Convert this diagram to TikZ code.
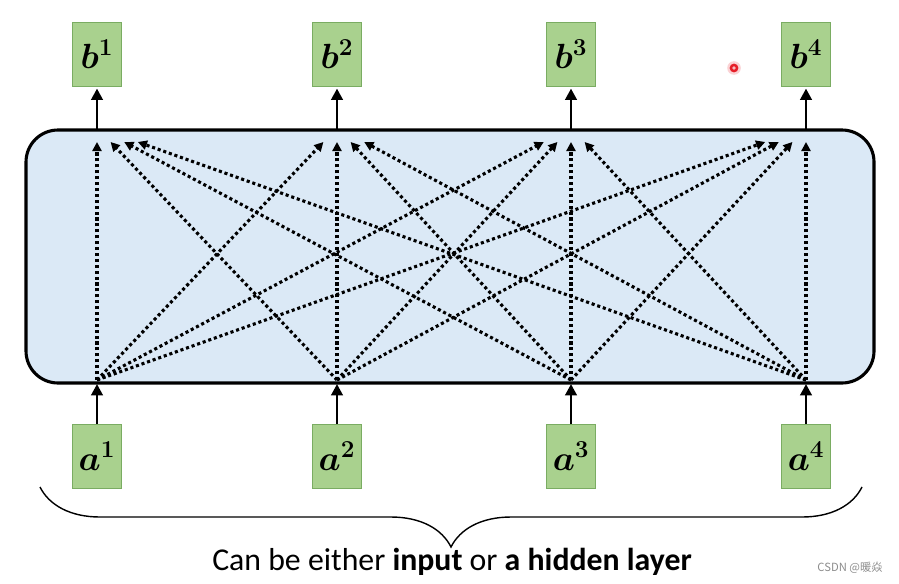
\documentclass[tikz,border=0pt]{standalone}
\usepackage{fontspec}
\usepackage{bm}
\usetikzlibrary{arrows.meta,positioning,decorations.pathreplacing}
\newfontfamily\captionfont{Carlito}
\newfontfamily\cjkfont{Noto Sans CJK SC}
\definecolor{unitGreen}{RGB}{169,209,142}
\definecolor{unitGreenDark}{RGB}{122,172,98}
\definecolor{layerBlue}{RGB}{219,233,246}
\definecolor{markGray}{RGB}{140,140,140}
\definecolor{laserRed}{RGB}{230,30,40}

\begin{document}
\begin{tikzpicture}[x=0.025cm,y=-0.025cm,
    unitbox/.style={draw=unitGreenDark, fill=unitGreen, line width=0.6pt,
        minimum width=1.225cm, minimum height=1.6cm, inner sep=0pt,
        font=\fontsize{25}{28}\selectfont},
    feed/.style={line width=2pt, -{Triangle[length=8pt,width=8pt]}},
    linkarrow/.style={line width=2.2pt, dash pattern=on 2.2pt off 2pt,
        -{Triangle[length=6.5pt,width=6.5pt]}}]
    \useasboundingbox (0,0) rectangle (899,584);

    % layer
    \draw[line width=2.2pt, fill=layerBlue, rounded corners=0.8cm] (26,130) rectangle (874,383);

    % units and their feeds
    \foreach \i/\xp in {1/97,2/337,3/571,4/806} {
        \node[unitbox] (b\i) at (\xp,54) {$\bm{b^{\i}}$};
        \node[unitbox] (a\i) at (\xp,456) {$\bm{a^{\i}}$};
        \coordinate (top\i) at (\xp,130);
        \coordinate (bot\i) at (\xp,384);
        \coordinate (in\i) at (\xp,380);
        \coordinate (out\i) at (\xp,142);
        \draw[feed, shorten >=1.5pt] (top\i) -- (b\i);
        \draw[feed] (a\i) -- (bot\i);
    }

    % every input to every output
    \foreach \i in {1,...,4} {
        \foreach \j in {1,...,4} {
            \pgfmathsetmacro{\dx}{0.34*(\i-\j)}
            \draw[linkarrow] (in\i) -- ([xshift=\dx cm]out\j);
        }
    }

    % brace and caption
    \draw[decorate, decoration={brace, amplitude=1.5cm, mirror}, line width=1pt]
        (40,487) -- (862,487);
    \node[font=\captionfont\fontsize{22.6}{26}\selectfont] (caption) at (452,562)
        {Can be either \textbf{input} or \textbf{a hidden layer}};

    % pointer and watermark
    \fill[laserRed!20] (734,68) circle (0.17cm);
    \fill[laserRed] (734,68) circle (0.11cm);
    \fill[white!70!laserRed] (734,68) circle (0.045cm);
    \node[text=markGray, font=\cjkfont\fontsize{8}{10}\selectfont] (mark) at (850,568) {CSDN @暖焱};
\end{tikzpicture}
\end{document}
